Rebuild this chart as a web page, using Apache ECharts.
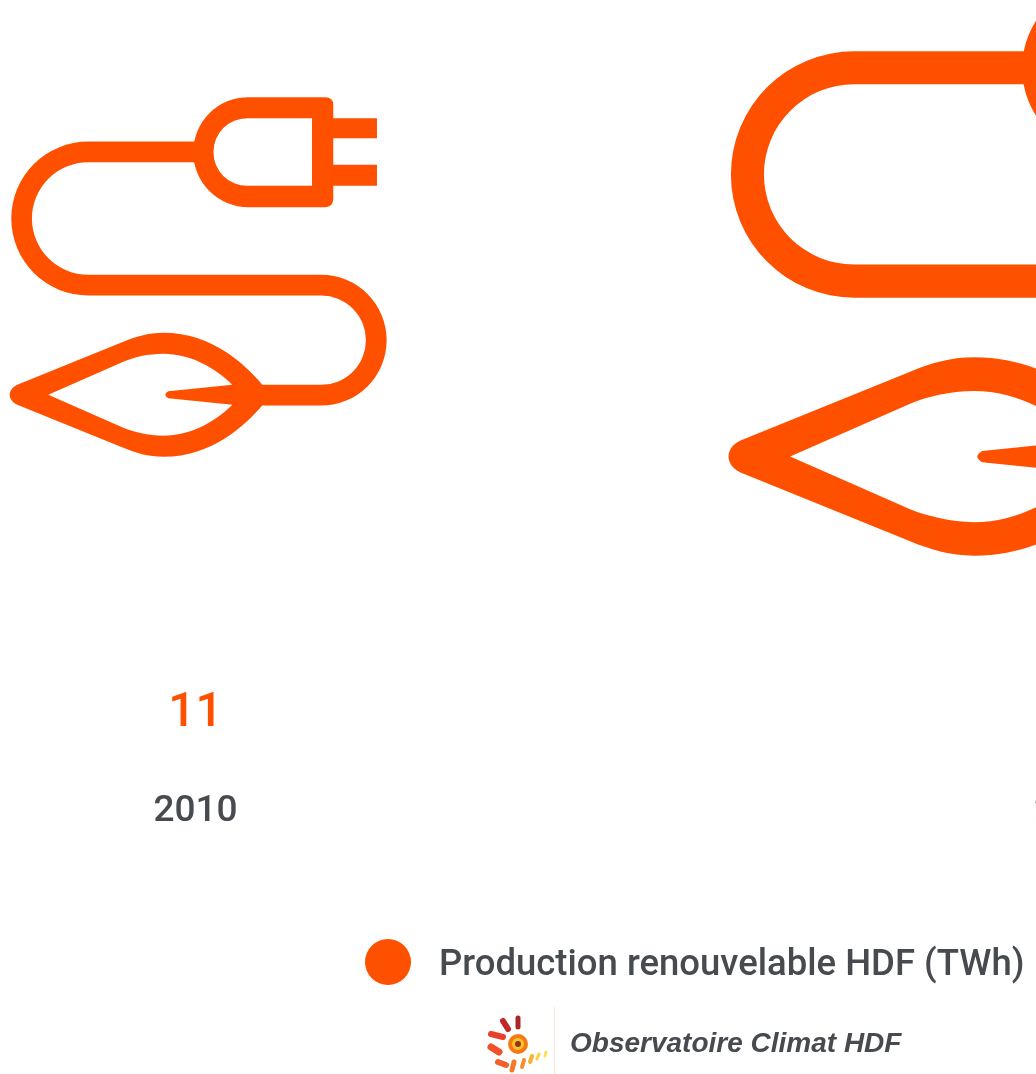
<!DOCTYPE html>
<html>
<head>
<meta charset="utf-8">
<title>Production renouvelable HDF</title>
<style>
  html, body { margin: 0; padding: 0; background: #fff; overflow: hidden; }
  #chart { width: 1036px; height: 1074px; }
</style>
<script src="https://cdn.jsdelivr.net/npm/echarts@6/dist/echarts.min.js"></script>
</head>
<body>
<div id="chart"></div>
<script>
// Values. The second year and value are cut off at the
// right edge: the year only shows its first digit, the value comes from icon size.
const years = ['2010', '2019'];
const production = [11, 17.6];
const seriesName = 'Production renouvelable HDF (TWh)';

const ORANGE = '#ff5000';
const GREY = '#474b50';

// plug + cord + leaf, traced from the first icon
const plugLeaf = 'path://'
    // cord
    + 'M200 141.7 L88 141.7 A77 77 0 0 0 88 295.7 L321 295.7 A44.65 44.65 0 0 1 321 385 '
    + 'L262 385 L262 405.7 L321 405.7 A65.35 65.35 0 0 0 321 275 L88 275 A56.35 56.35 0 0 1 88 162.3 L200 162.3 Z '
    // plug body and pins
    + 'M325 97.3 L248 97.3 A55 55 0 0 0 248 207.3 L325 207.3 Q333 207.3 333 199 L333 186 L376.7 186 L376.7 165 '
    + 'L333 165 L333 138.3 L376.7 138.3 L376.7 118.3 L333 118.3 L333 105 Q333 97.3 325 97.3 Z '
    + 'M247 118.3 L311.7 118.3 L311.7 186 L247 186 A33.85 33.85 0 0 1 247 118.3 Z '
    // leaf, the hole holds the vein
    + 'M262 385 C245 365 212 333 163 333 C148 333 135 337 123 342 L17 385 C7 389.5 7 400.5 17 405 L123 448 '
    + 'C135 453 148 457 163 457 C212 457 245 425 262 405.7 Z '
    + 'M48 395 L123 362 C133 357.6 148 354 163 354 C190 354 215 368 232 385 L168 391.5 Q162 395 168 398.5 L232 405 '
    + 'C215 422 190 436 163 436 C148 436 133 432 123 428 Z';

// icons do not sit exactly on their category
const iconOffsets = [[2.7, 0], [-46, -9]];
const PX_PER_UNIT = 376.85 / 11;

// small sun logo, rays as short strokes
const logoRays = [
    [518, 1018, 518, 1027, '#a8262a', 5],
    [503, 1021, 508, 1029, '#c0282a', 6],
    [491, 1034, 503, 1037, '#e8402a', 6],
    [491, 1047, 499, 1052, '#f0502a', 7],
    [498, 1062, 506, 1065, '#f0602a', 6],
    [514, 1062, 512, 1070, '#f47a2a', 5],
    [524, 1060, 522, 1067, '#f58f2a', 4],
    [532, 1056, 530, 1062, '#f8b030', 4],
    [539, 1054, 537, 1059, '#fbcf40', 3],
    [546, 1052, 545, 1056, '#fde050', 3]
];

const chart = echarts.init(document.getElementById('chart'), null, { renderer: 'canvas' });

chart.setOption({
    backgroundColor: '#fff',
    animation: false,
    grid: { left: -244.75, top: 0, width: 1761, height: 554, outerBoundsMode: 'none' },
    xAxis: {
        type: 'category',
        data: years,
        axisLine: { show: false },
        axisTick: { show: false },
        splitLine: { show: false },
        axisLabel: {
            interval: 0,
            margin: 111,
            hideOverlap: false,
            formatter: (year, i) => `{v|${Math.round(production[i])}}\n{y|${year}}`,
            rich: {
                v: { color: ORANGE, fontFamily: 'Roboto', fontWeight: 500, fontSize: 48, lineHeight: 98, align: 'center' },
                y: { color: GREY, fontFamily: 'Roboto', fontWeight: 500, fontSize: 37, lineHeight: 98, align: 'center' }
            }
        }
    },
    yAxis: { type: 'value', min: -1, max: 1, show: false },
    legend: {
        left: 360,
        top: 934,
        icon: 'circle',
        itemWidth: 46,
        itemHeight: 46,
        selectedMode: false,
        formatter: '{a|{name}}',
        textStyle: {
            rich: {
                a: {
                    color: GREY,
                    fontFamily: 'Roboto',
                    fontWeight: 500,
                    fontSize: 36.5,
                    padding: [8, 0, 0, 23]
                }
            }
        },
        data: [seriesName]
    },
    series: [{
        name: seriesName,
        type: 'scatter',
        clip: false,
        silent: true,
        symbol: plugLeaf,
        symbolKeepAspect: true,
        itemStyle: { color: ORANGE, opacity: 1 },
        data: production.map((v, i) => ({
            value: [years[i], 0],
            symbolSize: v * PX_PER_UNIT,
            symbolOffset: iconOffsets[i]
        }))
    }],
    graphic: [{
        type: 'group',
        silent: true,
        children: [
            {
                type: 'line',
                shape: { x1: 554.5, y1: 1007, x2: 554.5, y2: 1074 },
                style: { stroke: '#fbe3dc', lineWidth: 1 }
            },
            ...logoRays.map((r) => ({
                type: 'line',
                shape: { x1: r[0], y1: r[1], x2: r[2], y2: r[3] },
                style: { stroke: r[4], lineWidth: r[5], lineCap: 'round' }
            })),
            { type: 'circle', shape: { cx: 518, cy: 1044, r: 10 }, style: { fill: '#f57a14' } },
            { type: 'circle', shape: { cx: 518, cy: 1044, r: 6 }, style: { fill: '#fbc02d' } },
            { type: 'circle', shape: { cx: 518, cy: 1044, r: 3 }, style: { fill: '#8a3a1a' } },
            {
                type: 'text',
                style: {
                    x: 570,
                    y: 1044,
                    text: 'Observatoire Climat HDF',
                    verticalAlign: 'middle',
                    font: 'italic bold 28px "Liberation Sans"',
                    fill: '#474b50'
                }
            }
        ]
    }]
});
</script>
</body>
</html>
